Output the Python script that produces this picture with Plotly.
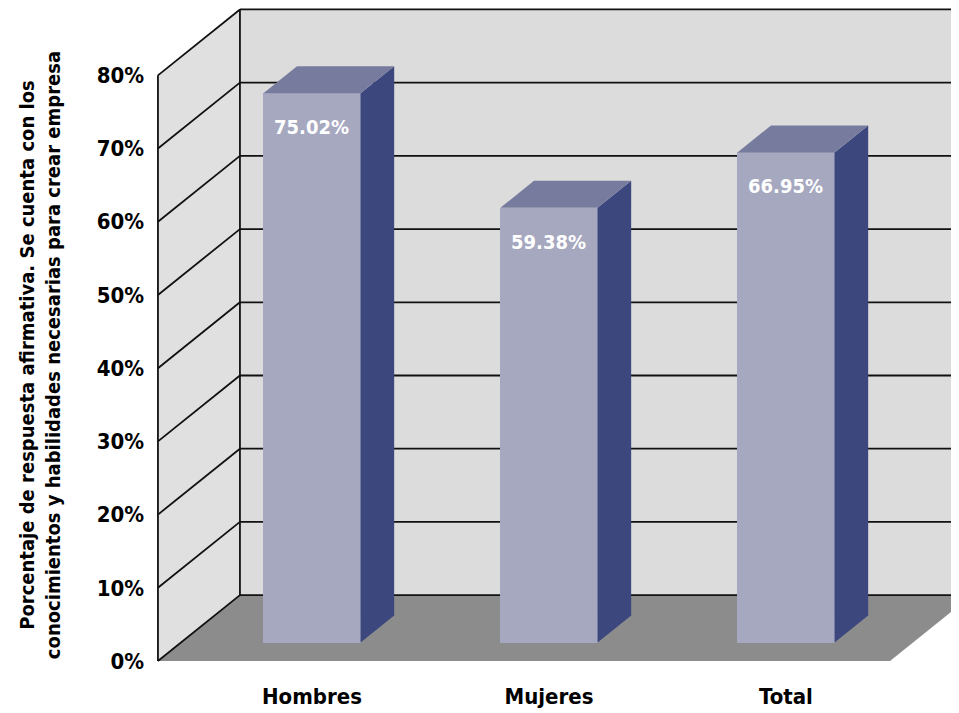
import plotly.graph_objects as go

# ---------------- data ----------------
categories = ["Hombres", "Mujeres", "Total"]
values = [75.02, 59.38, 66.95]
tick_values = [0, 10, 20, 30, 40, 50, 60, 70, 80]
tick_labels = ["0%", "10%", "20%", "30%", "40%", "50%", "60%", "70%", "80%"]
y_title = ("Porcentaje de respuesta afirmativa. Se cuenta con los<br>"
           "conocimientos y habilidades necesarias para crear empresa")

# ---------------- pseudo-3D geometry (axis units) ----------------
DX = 0.346      # full depth horizontal shift (category units)
DY = 9.0        # full depth vertical shift (% units)
F_FRONT = 0.28  # bar front plane depth fraction
F_BACK = 0.69   # bar back plane depth fraction
BAR_W = 0.41
X_LEFT = -0.553
X_RIGHT = 2.536
YMAX = tick_values[-1]

FONT = "Liberation Sans Narrow, DejaVu Sans Condensed, Arial Narrow, sans-serif"
C_FRONT = "#A6A8BF"
C_SIDE = "#3B477D"
C_TOP = "#777C9E"
C_WALL = "#DCDCDC"
C_LWALL = "#E0E0E0"
C_FLOOR = "#8C8C8C"
C_LINE = "#111111"

xs = list(range(len(categories)))
fig = go.Figure()

shapes = []
# back wall
shapes.append(dict(type="rect", xref="x", yref="y", layer="below",
                   x0=X_LEFT + DX, x1=X_RIGHT + DX + 1, y0=DY, y1=YMAX + DY,
                   fillcolor=C_WALL, line=dict(width=0)))
# left wall
shapes.append(dict(type="path", xref="x", yref="y", layer="below",
                   path=f"M{X_LEFT},0 L{X_LEFT+DX},{DY} L{X_LEFT+DX},{YMAX+DY} L{X_LEFT},{YMAX} Z",
                   fillcolor=C_LWALL, line=dict(width=0)))
# floor
shapes.append(dict(type="path", xref="x", yref="y", layer="below",
                   path=f"M{X_LEFT},0 L{X_RIGHT},0 L{X_RIGHT+DX},{DY} L{X_LEFT+DX},{DY} Z",
                   fillcolor=C_FLOOR, line=dict(width=0)))
# gridlines on back and left walls
for t in tick_values:
    shapes.append(dict(type="line", xref="x", yref="y", layer="below",
                       x0=X_LEFT + DX, x1=X_RIGHT + DX + 1, y0=t + DY, y1=t + DY,
                       line=dict(color=C_LINE, width=1.8)))
    shapes.append(dict(type="line", xref="x", yref="y", layer="below",
                       x0=X_LEFT, x1=X_LEFT + DX, y0=t, y1=t + DY,
                       line=dict(color=C_LINE, width=1.8)))
# wall edges
shapes.append(dict(type="line", xref="x", yref="y", layer="below",
                   x0=X_LEFT + DX, x1=X_LEFT + DX, y0=DY, y1=YMAX + DY,
                   line=dict(color=C_LINE, width=1.8)))
shapes.append(dict(type="line", xref="x", yref="y", layer="below",
                   x0=X_LEFT, x1=X_LEFT, y0=0, y1=YMAX,
                   line=dict(color=C_LINE, width=1.8)))

# front faces of bars
x_front = [x + F_FRONT * DX for x in xs]
base_front = F_FRONT * DY
fig.add_trace(go.Bar(x=x_front, y=values, base=base_front, width=BAR_W,
                     marker=dict(color=C_FRONT, line=dict(width=0)),
                     hoverinfo="skip", showlegend=False))

ddx = (F_BACK - F_FRONT) * DX
ddy = (F_BACK - F_FRONT) * DY
for xc, v in zip(x_front, values):
    xl = xc - BAR_W / 2
    xr = xc + BAR_W / 2
    b = base_front
    # side face
    fig.add_trace(go.Scatter(
        x=[xr, xr + ddx, xr + ddx, xr, xr],
        y=[b, b + ddy, b + ddy + v, b + v, b],
        mode="lines", fill="toself", fillcolor=C_SIDE,
        line=dict(width=0, color=C_SIDE), hoverinfo="skip", showlegend=False))
    # top face
    fig.add_trace(go.Scatter(
        x=[xl, xr, xr + ddx, xl + ddx, xl],
        y=[b + v, b + v, b + v + ddy, b + v + ddy, b + v],
        mode="lines", fill="toself", fillcolor=C_TOP,
        line=dict(width=0, color=C_TOP), hoverinfo="skip", showlegend=False))

annotations = []
for xc, v in zip(x_front, values):
    annotations.append(dict(x=xc, y=v + base_front, xref="x", yref="y",
                            text=f"{v:.2f}%", showarrow=False, yshift=-34,
                            font=dict(family=FONT, size=20, color="white", weight="bold")))
annotations.append(dict(x=0, y=0.470, xref="paper", yref="paper", xshift=-110,
                        text=y_title, showarrow=False, textangle=-90,
                        xanchor="center", yanchor="middle",
                        font=dict(family=FONT, size=20, color="black", weight="bold")))

fig.update_layout(
    width=951, height=705,
    margin=dict(l=142, r=0, t=0, b=50),
    paper_bgcolor="white", plot_bgcolor="white",
    shapes=shapes, annotations=annotations,
    bargap=0,
    xaxis=dict(range=[-0.5865, 2.827], tickvals=x_front, ticktext=categories,
               showgrid=False, zeroline=False, showline=False, ticks="",
               ticklabelstandoff=18,
               tickfont=dict(family=FONT, size=22, color="black", weight="bold")),
    yaxis=dict(range=[-0.273, 89.2], tickvals=tick_values, ticktext=tick_labels,
               showgrid=False, zeroline=False, showline=False, ticks="",
               ticklabelstandoff=5,
               tickfont=dict(family=FONT, size=22, color="black", weight="bold")),
)

fig.write_html("out.html")
